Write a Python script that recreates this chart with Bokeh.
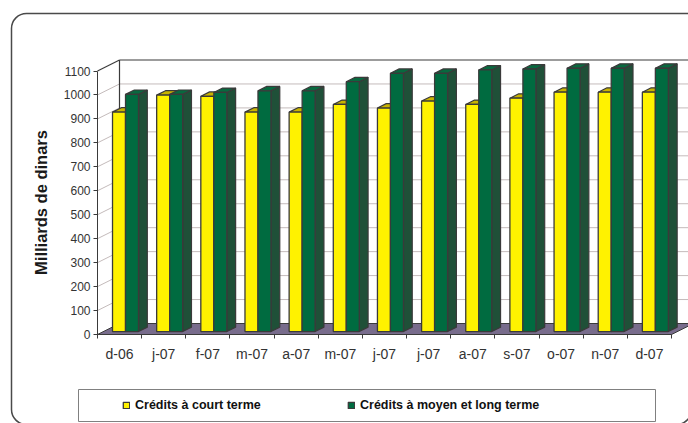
import math
from bokeh.plotting import figure
from bokeh.models import Range1d, FixedTicker, BoxAnnotation, Legend, LegendItem, Label
from bokeh.embed import file_html
from bokeh.resources import INLINE

# ---- data ----
months = ["d-06", "j-07", "f-07", "m-07", "a-07", "m-07", "j-07", "j-07", "a-07", "s-07", "o-07", "n-07", "d-07"]
court = [916, 987, 982, 916, 916, 948, 933, 962, 948, 974, 999, 999, 999]
moyen = [990, 990, 998, 1005, 1005, 1043, 1078, 1078, 1092, 1096, 1099, 1099, 1099]
y_ticks = list(range(0, 1101, 100))
series_names = ["Crédits à court terme", "Crédits à moyen et long terme"]
y_title = "Milliards de dinars"

# ---- geometry (style) ----
W, H = 688, 423
X0PX, Y0PX = 97, 334          # pixel position of the origin (front plane)
n = len(months)
pxx = 574 / n                 # px per category
pxy = 263.5 / 1100            # px per value unit
X_START, X_END = -X0PX / pxx, (W - X0PX) / pxx
Y_START, Y_END = -(H - Y0PX) / pxy, Y0PX / pxy
DX = 22 / pxx
DY = 11 / pxy
F0, F1 = 0.27, 0.67
BW = 13 / pxx
YMAX = y_ticks[-1]

p = figure(width=W, height=H, output_backend="svg", toolbar_location=None,
           x_range=Range1d(X_START, X_END), y_range=Range1d(Y_START, Y_END),
           min_border_left=0, min_border_right=0, min_border_top=0, min_border_bottom=0)
p.outline_line_color = None
p.xgrid.visible = False
p.ygrid.visible = False
p.background_fill_color = "white"
p.border_fill_color = "white"

FONT = "Liberation Sans"
DARK = "#3a3a3a"
GRID = "#c4bbbb"

# floor
p.patch([0, n, n + DX, DX], [0, 0, DY, DY], fill_color="#786c8c", line_color=DARK, line_width=1)

# back wall gridlines and left wall diagonals
light = [v for v in y_ticks if 0 < v < YMAX]
p.segment(x0=[DX] * len(light), y0=[v + DY for v in light], x1=[X_END] * len(light),
          y1=[v + DY for v in light], line_color=GRID, line_width=1)
p.segment(x0=[0] * len(light), y0=light, x1=[DX] * len(light),
          y1=[v + DY for v in light], line_color=GRID, line_width=1)
p.segment(x0=[DX, 0, DX], y0=[YMAX + DY, YMAX, DY], x1=[X_END, DX, DX],
          y1=[YMAX + DY, YMAX + DY, YMAX + DY], line_color=DARK, line_width=1.2)

# bars
f0x, f1x, f0y, f1y = F0 * DX, F1 * DX, F0 * DY, F1 * DY
centers = [i + 0.5 for i in range(n)]


def faces(lefts, rights, vals):
    tops_x, tops_y, side_x, side_y = [], [], [], []
    for l, r, v in zip(lefts, rights, vals):
        tops_x.append([l + f0x, r + f0x, r + f1x, l + f1x])
        tops_y.append([v + f0y, v + f0y, v + f1y, v + f1y])
        side_x.append([r + f0x, r + f1x, r + f1x, r + f0x])
        side_y.append([f0y, f1y, v + f1y, v + f0y])
    return tops_x, tops_y, side_x, side_y


yl = [c - BW for c in centers]
yr = centers
gl = centers
gr = [c + BW for c in centers]

tx, ty, sx, sy = faces(yl, yr, court)
p.patches(sx, sy, fill_color="#b8a800", line_color=DARK, line_width=1.2)
p.patches(tx, ty, fill_color="#c9b400", line_color=DARK, line_width=1.2)
ry = p.quad(left=[l + f0x for l in yl], right=[r + f0x for r in yr], bottom=[f0y] * n,
            top=[v + f0y for v in court], fill_color="#fff200", line_color=DARK, line_width=1.3)

tx, ty, sx, sy = faces(gl, gr, moyen)
p.patches(sx, sy, fill_color="#1f5038", line_color=DARK, line_width=1.2)
p.patches(tx, ty, fill_color="#08693f", line_color=DARK, line_width=1.2)
rg = p.quad(left=[l + f0x for l in gl], right=[r + f0x for r in gr], bottom=[f0y] * n,
            top=[v + f0y for v in moyen], fill_color="#006b40", line_color=DARK, line_width=1.3)

# axes (fixed at the origin, drawn inside the full-canvas frame)
ya = p.yaxis[0]
ya.fixed_location = 0
ya.ticker = FixedTicker(ticks=y_ticks, minor_ticks=[])
ya.bounds = (0, YMAX)
ya.axis_line_color = DARK
ya.major_tick_line_color = DARK
ya.major_tick_out = 4
ya.major_tick_in = 0
ya.minor_tick_line_color = None
ya.major_label_standoff = 3
ya.major_label_text_font = FONT
ya.major_label_text_font_size = "12px"
ya.major_label_text_color = "#333333"

xa = p.xaxis[0]
xa.fixed_location = 0
xa.ticker = FixedTicker(ticks=centers, minor_ticks=list(range(n + 1)))
xa.major_label_overrides = {c: m for c, m in zip(centers, months)}
xa.bounds = (0, n)
xa.axis_line_color = DARK
xa.major_tick_line_color = None
xa.major_tick_out = 0
xa.major_tick_in = 0
xa.minor_tick_line_color = DARK
xa.minor_tick_out = 4
xa.minor_tick_in = 0
xa.major_label_standoff = 7
xa.major_label_text_font = FONT
xa.major_label_text_font_size = "14px"
xa.major_label_text_color = "#333333"

# y title
p.add_layout(Label(x=40, y=H - 202, x_units="screen", y_units="screen", text=y_title,
                   angle=math.pi / 2, text_align="center", text_baseline="middle",
                   text_font=FONT, text_font_style="bold", text_font_size="16.5px",
                   text_color="#1a1a1a"))

# outer rounded border & legend box
outer = BoxAnnotation(left=11, right=691, top=13, bottom=424,
                      left_units="canvas", right_units="canvas", top_units="canvas", bottom_units="canvas",
                      fill_color=None, fill_alpha=0, line_color="#4a4a4a", line_alpha=1,
                      line_width=1.5, border_radius=(15, 0, 15, 15))
p.add_layout(outer)
lbox = BoxAnnotation(left=78, right=655, top=389, bottom=421,
                     left_units="canvas", right_units="canvas", top_units="canvas", bottom_units="canvas",
                     fill_color=None, fill_alpha=0, line_color="#808080", line_alpha=1, line_width=1)
p.add_layout(lbox)

legend = Legend(items=[LegendItem(label=series_names[0], renderers=[ry]),
                       LegendItem(label=series_names[1], renderers=[rg])],
                location=(122, 11.5), orientation="horizontal", padding=0, margin=0,
                spacing=12, glyph_width=8, glyph_height=8, label_standoff=5, label_width=200,
                label_height=12, border_line_color=None, background_fill_alpha=0,
                label_text_font=FONT, label_text_font_style="bold", label_text_font_size="12.5px",
                label_text_color="#111111")
p.add_layout(legend, "center")

open("out.html", "w").write(file_html(p, INLINE))
